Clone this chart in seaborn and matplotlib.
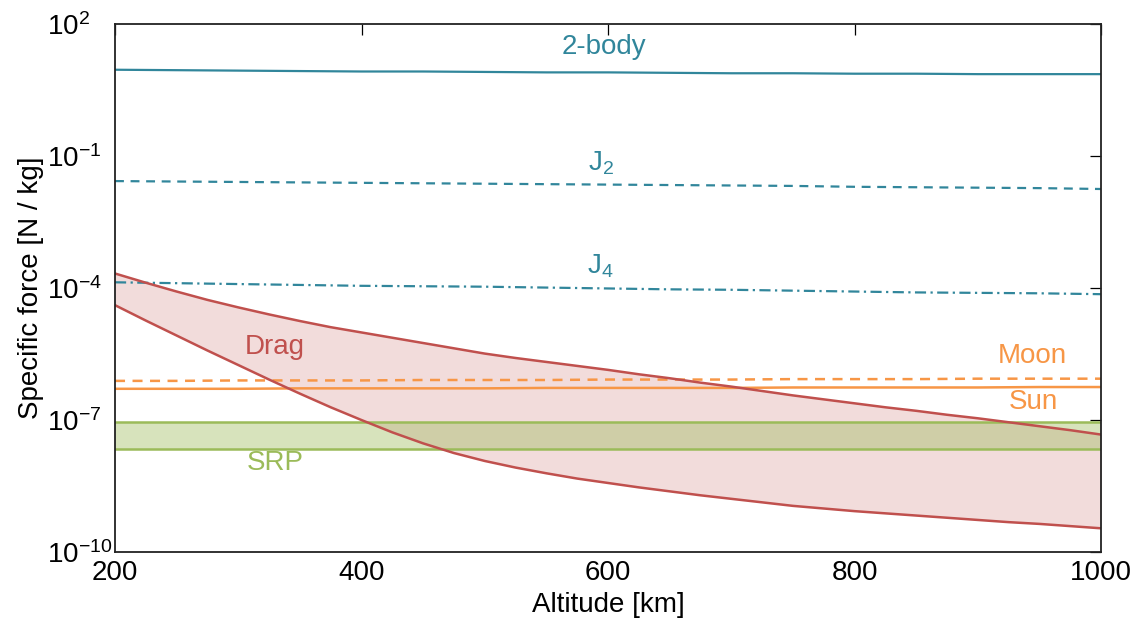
import numpy as np
import pandas as pd
import matplotlib
matplotlib.use("Agg")
import matplotlib.pyplot as plt
import seaborn as sns

# --- data (log10 of specific force in N/kg) ---
alt = [200, 250, 300, 350, 400, 450, 500, 550, 600, 650, 700, 750, 800, 850, 900, 950, 1000]

two_body = [0.96, 0.95, 0.94, 0.93, 0.92, 0.92, 0.91, 0.90, 0.90, 0.89, 0.88, 0.88, 0.87, 0.87, 0.86, 0.86, 0.86]
j2 = [-1.57, -1.58, -1.59, -1.60, -1.61, -1.62, -1.63, -1.64, -1.65, -1.66, -1.67, -1.68, -1.70, -1.71, -1.72, -1.73, -1.75]
j4 = [-3.87, -3.89, -3.91, -3.93, -3.95, -3.96, -3.97, -3.99, -4.01, -4.03, -4.04, -4.06, -4.08, -4.10, -4.11, -4.12, -4.14]
moon = [-6.11, -6.11, -6.10, -6.10, -6.10, -6.09, -6.09, -6.09, -6.08, -6.08, -6.08, -6.07, -6.07, -6.07, -6.06, -6.06, -6.06]
sun = [-6.29, -6.29, -6.29, -6.28, -6.28, -6.28, -6.28, -6.27, -6.27, -6.27, -6.27, -6.26, -6.26, -6.26, -6.26, -6.25, -6.25]
srp_hi = [-7.05] * len(alt)
srp_lo = [-7.66] * len(alt)

# drag band, read every 25 km
alt_drag = [200, 225, 250, 275, 300, 325, 350, 375, 400, 425, 450, 475, 500, 525, 550, 575, 600,
            625, 650, 675, 700, 725, 750, 775, 800, 825, 850, 875, 900, 925, 950, 975, 1000]
drag_hi = [-3.67, -3.88, -4.08, -4.27, -4.44, -4.60, -4.75, -4.89, -5.01, -5.13, -5.25, -5.37, -5.49,
           -5.59, -5.68, -5.77, -5.86, -5.96, -6.05, -6.15, -6.24, -6.34, -6.44, -6.53, -6.62, -6.71,
           -6.79, -6.88, -6.96, -7.05, -7.14, -7.23, -7.33]
drag_lo = [-4.39, -4.74, -5.08, -5.42, -5.75, -6.08, -6.40, -6.71, -7.00, -7.28, -7.53, -7.75, -7.93,
           -8.08, -8.21, -8.33, -8.43, -8.53, -8.62, -8.71, -8.79, -8.87, -8.95, -9.01, -9.07, -9.12,
           -9.17, -9.22, -9.27, -9.32, -9.36, -9.41, -9.46]

yticks = [1e2, 1e-1, 1e-4, 1e-7, 1e-10]
ytick_labels = ["$10^{2}$", "$10^{-1}$", "$10^{-4}$", "$10^{-7}$", "$10^{-10}$"]
xticks = [200, 400, 600, 800, 1000]

teal = "#31869b"
red = "#c0504d"
orange = "#f79646"
green = "#9bbb59"

df = pd.DataFrame({"alt": alt})
for name, vals in [("two_body", two_body), ("j2", j2), ("j4", j4), ("moon", moon), ("sun", sun),
                   ("srp_hi", srp_hi), ("srp_lo", srp_lo)]:
    df[name] = 10.0 ** np.array(vals)
dd = pd.DataFrame({"alt": alt_drag,
                   "drag_hi": 10.0 ** np.array(drag_hi),
                   "drag_lo": 10.0 ** np.array(drag_lo)})

sns.set_style("white")
plt.rcParams["font.family"] = ["Liberation Sans", "DejaVu Sans"]
plt.rcParams["mathtext.fontset"] = "custom"
plt.rcParams["mathtext.rm"] = "Liberation Sans"
plt.rcParams["mathtext.it"] = "Liberation Sans"
plt.rcParams["text.color"] = "black"
plt.rcParams["axes.labelcolor"] = "black"
plt.rcParams["xtick.color"] = "black"
plt.rcParams["ytick.color"] = "black"

fig = plt.figure(figsize=(11.4, 6.21), dpi=100)
ax = fig.add_axes([0.1009, 0.111, 0.8649, 0.8504])

# bands
ax.fill_between(dd["alt"], dd["drag_lo"], dd["drag_hi"], color=red, alpha=0.2, lw=0)
ax.fill_between(df["alt"], df["srp_lo"], df["srp_hi"], color=green, alpha=0.4, lw=0)

sns.lineplot(data=df, x="alt", y="two_body", color=teal, lw=1.6, ax=ax)
sns.lineplot(data=df, x="alt", y="j2", color=teal, lw=1.6, ax=ax, linestyle=(0, (4, 3)))
sns.lineplot(data=df, x="alt", y="j4", color=teal, lw=1.6, ax=ax, linestyle=(0, (5, 2, 1, 2)))
sns.lineplot(data=df, x="alt", y="moon", color=orange, lw=1.8, ax=ax, linestyle=(0, (4, 3)))
sns.lineplot(data=df, x="alt", y="sun", color=orange, lw=1.8, ax=ax)
sns.lineplot(data=df, x="alt", y="srp_hi", color=green, lw=1.8, ax=ax)
sns.lineplot(data=df, x="alt", y="srp_lo", color=green, lw=1.8, ax=ax)
sns.lineplot(data=dd, x="alt", y="drag_hi", color=red, lw=1.8, ax=ax)
sns.lineplot(data=dd, x="alt", y="drag_lo", color=red, lw=1.8, ax=ax)

ax.set_yscale("log")
ax.set_xlim(200, 1000)
ax.set_ylim(1e-10, 1e2)
ax.set_yticks(yticks)
ax.set_yticklabels(ytick_labels)
ax.yaxis.set_minor_locator(matplotlib.ticker.NullLocator())
ax.set_xticks(xticks)
ax.tick_params(direction="in", length=8, width=0.9, labelsize=20, top=True, right=True)
ax.tick_params(axis="x", pad=6)
# tick labels left-aligned like the original
ax.tick_params(axis="y", pad=49)
for t in ax.get_yticklabels():
    t.set_horizontalalignment("left")
for s in ax.spines.values():
    s.set_color("#222222")
    s.set_linewidth(1.3)

ax.set_xlabel("Altitude [km]", fontsize=20, labelpad=4)
ax.set_ylabel("Specific force [N / kg]", fontsize=20, labelpad=2)

lbl = dict(fontsize=20, ha="center", va="center")
ax.text(597, 10 ** 1.48, "2-body", color=teal, **lbl)
ax.text(594, 10 ** -1.16, "J$_2$", color=teal, **lbl)
ax.text(594, 10 ** -3.5, "J$_4$", color=teal, **lbl)
ax.text(330, 10 ** -5.34, "Drag", color=red, **lbl)
ax.text(944, 10 ** -5.55, "Moon", color=orange, **lbl)
ax.text(945, 10 ** -6.59, "Sun", color=orange, **lbl)
ax.text(330, 10 ** -7.98, "SRP", color=green, **lbl)

fig.savefig("out.png", dpi=100)
